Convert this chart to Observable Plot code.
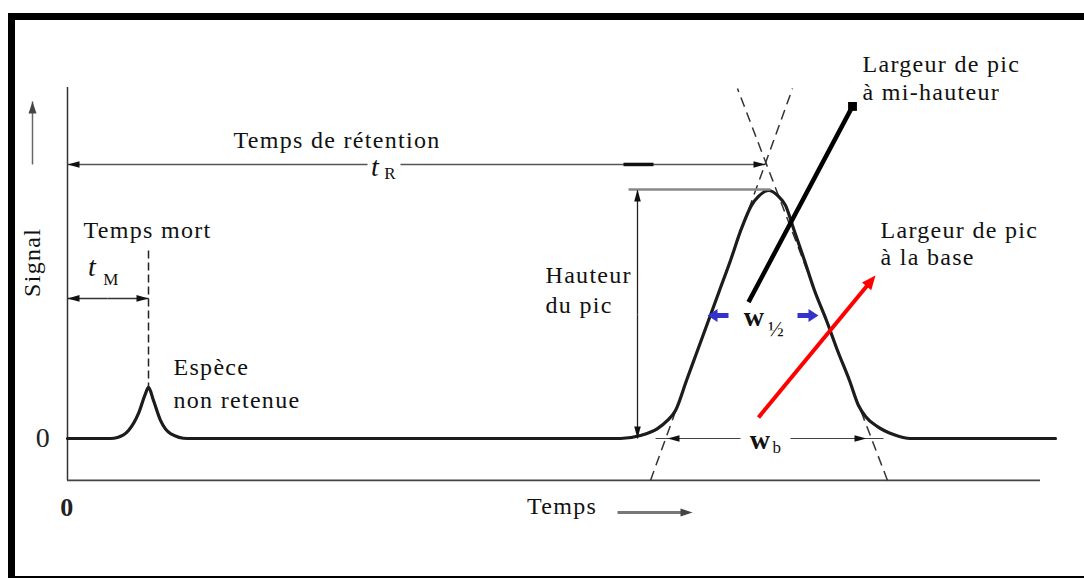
<!DOCTYPE html>
<html><head><meta charset="utf-8">
<script src="https://cdn.jsdelivr.net/npm/d3@7"></script>
<script src="https://cdn.jsdelivr.net/npm/@observablehq/plot@0.6"></script>
<style>
html,body{margin:0;padding:0;background:#fff;}
#wrap{position:relative;width:1084px;height:579px;overflow:hidden;background:#fff;}
#chart{position:absolute;left:0;top:0;}
#frame{position:absolute;left:8px;top:13px;width:1100px;height:556px;border-left:7px solid #000;border-top:7px solid #000;border-bottom:2px solid #000;pointer-events:none;}
#chart svg text{letter-spacing:1.3px;}
</style></head><body>
<div id="wrap"><div id="chart"></div><div id="frame"></div></div>
<script>
// ---- scales (time units, signal units: main peak height = 100)
const xDomain = [0, 98.8], xRange = [67, 1055];
const yDomain = [0, 100], yRange = [438, 190];

// ---- chromatogram trace
const traceTime = [0, 4.3, 5.0, 6.1, 7.1, 7.8, 8.1, 8.6, 9.3, 10.3, 12.0,
  55.3, 57.3, 59.0, 60.0, 60.8, 61.9, 63.0, 64.1, 65.2, 66.3, 67.4, 68.4, 69.1, 70.1,
  71.1, 71.8, 72.6, 73.7, 74.7, 75.9, 77.0, 78.2, 79.1, 79.8, 81.0, 82.6, 84.3, 98.8];
const traceSignal = [0, 0, 0.4, 3.2, 10.1, 18.1, 20.6, 15.3, 7.3, 2.0, 0,
  0, 1.2, 4.0, 7.3, 11.3, 23.4, 35.5, 47.6, 59.7, 71.8, 84.7, 94.0, 97.6, 100,
  97.6, 94.0, 84.7, 71.8, 59.7, 47.6, 35.5, 23.4, 13.3, 8.9, 4.8, 1.6, 0, 0];

// ---- axes frame and ticks
const axisTime = [0, 97.3];
const axisSignal = [-16.9, 141.5];
const timeTicks = [0];
const signalTicks = [0];

// ---- annotation segments [t1, s1, t2, s2]
const retentionSegments = [[30.0, 110.5, 0, 110.5], [33.3, 110.5, 69.8, 110.5]];
const retentionMarker = [[55.6, 110.5, 58.6, 110.5]];
const deadTimeSegments = [[4.0, 56.5, 0, 56.5], [4.0, 56.5, 8.1, 56.5]];
const deadTimeDash = [[8.1, 75.8, 8.1, 20.6]];
const heightSegments = [[57.0, 50, 57.0, 100.4], [57.0, 50, 57.0, 0]];
const heightTop = [[56.1, 100.4, 70.3, 100.4]];
const tangents = [[58.3, -16.9, 72.5, 141.1], [82.0, -16.9, 67.0, 141.1]];
const baseWidthSegments = [[67.3, 0, 58.8, 0], [72.3, 0, 81.6, 0]];
const baseWidthTips = [[67.3, 0, 60.0, 0], [72.3, 0, 79.9, 0]];
const halfWidthArrows = [[66.1, 49.6, 64.0, 49.6], [73.0, 49.6, 75.1, 49.6]];
const pointerHalf = [[68.1, 55.0, 78.5, 133.9]];
const pointerBase = [[69.1, 8.5, 80.8, 65.7]];
const signalArrow = [[-3.5, 110.5, -3.5, 135.9]];
const timeArrow = [[55.0, -29.8, 62.5, -29.8]];

// ---- labels
const centeredText = ["Temps de rétention", "Temps mort", "Temps"];
const centeredTime = [26.95, 8.0, 49.45];
const centeredSignal = [120.4, 83.8, -27.5];
const leftText = ["Espèce", "non retenue", "Hauteur", "du pic", "Largeur de pic", "à mi-hauteur", "Largeur de pic", "à la base"];
const leftTime = [10.6, 10.6, 47.8, 47.8, 79.5, 79.5, 81.3, 81.3];
const leftSignal = [28.9, 15.3, 65.6, 53.9, 150.7, 139.4, 83.8, 72.9];
const italicText = ["t", "t"];
const italicTime = [30.8, 2.5];
const italicSignal = [109.3, 69.0];
const wText = ["w", "w"];
const wTime = [68.7, 69.3];
const wSignal = [48.8, -0.8];
const subText = ["R", "M", "b"];
const subTime = [32.3, 4.4, 71.0];
const subSignal = [106.9, 64.1, -3.6];
const fractionText = ["½"];
const fractionTime = [70.9];
const fractionSignal = [44.2];
const axisTitle = ["Signal"];
const axisTitleTime = [-3.5];
const axisTitleSignal = [71];

// ---- helpers
const kx = (xRange[1] - xRange[0]) / (xDomain[1] - xDomain[0]);
const ky = (yRange[0] - yRange[1]) / (yDomain[1] - yDomain[0]);
const rows = arr => arr.map(([t1, s1, t2, s2]) => ({t1, s1, t2, s2}));
const headAt = ([t1, s1, t2, s2]) => ({t: t2, s: s2, rotate: Math.atan2((t2 - t1) * kx, (s2 - s1) * ky) * 180 / Math.PI});
const shorten = ([t1, s1, t2, s2], px) => {
  const L = Math.hypot((t2 - t1) * kx, (s2 - s1) * ky), f = (L - px) / L;
  return [t1, s1, t1 + (t2 - t1) * f, s1 + (s2 - s1) * f];
};
const pts = (T, S) => T.map((t, i) => ({t, s: S[i]}));
const labelRows = (txt, T, S) => txt.map((text, i) => ({text, t: T[i], s: S[i]}));
const serif = "Liberation Serif, Times New Roman, serif";

const blackHeads = [...retentionSegments, ...deadTimeSegments, ...heightSegments, ...baseWidthTips].map(headAt);
const grayHeads = [...signalArrow, ...timeArrow].map(headAt);
const blueHeads = halfWidthArrows.map(headAt);
const redHeads = pointerBase.map(headAt);
const link = (arr, o) => Plot.link(rows(arr), {x1: "t1", y1: "s1", x2: "t2", y2: "s2", ...o});

const chart = Plot.plot({
  width: 1084, height: 579,
  margin: 0,
  x: {domain: xDomain, range: xRange, axis: null},
  y: {domain: yDomain, range: yRange, axis: null},
  style: {background: "transparent", overflow: "visible"},
  marks: [
    // axes
    Plot.ruleX([axisTime[0]], {y1: axisSignal[0], y2: axisSignal[1], stroke: "#333", strokeWidth: 1.5}),
    Plot.ruleY([axisSignal[0]], {x1: axisTime[0], x2: axisTime[1], stroke: "#444", strokeWidth: 1.8}),
    Plot.text(signalTicks, {x: xDomain[0], y: d => d, text: d => String(d), dx: -24, fontSize: 28, fontFamily: serif, fill: "#222"}),
    Plot.text(timeTicks, {x: d => d, y: axisSignal[0], text: d => String(d), dy: 27, fontSize: 26, fontWeight: "bold", fontFamily: serif, fill: "#222"}),
    Plot.text(labelRows(axisTitle, axisTitleTime, axisTitleSignal), {x: "t", y: "s", text: "text", rotate: -90, fontSize: 24, fontFamily: serif, fill: "#111"}),
    // tangents
    link(tangents, {stroke: "#333", strokeWidth: 1.5, strokeDasharray: "10,6"}),
    // trace
    Plot.line(pts(traceTime, traceSignal), {x: "t", y: "s", curve: "monotone-x", stroke: "#1c1c1c", strokeWidth: 3.2}),
    // dimension lines
    link(retentionSegments, {stroke: "#555", strokeWidth: 1.6}),
    link(retentionMarker, {stroke: "#111", strokeWidth: 3.5}),
    link(deadTimeSegments, {stroke: "#333", strokeWidth: 1.5}),
    link(deadTimeDash, {stroke: "#222", strokeWidth: 1.5, strokeDasharray: "8,4"}),
    link(heightSegments, {stroke: "#222", strokeWidth: 1.3}),
    link(heightTop, {stroke: "#888", strokeWidth: 2.5}),
    link(baseWidthSegments, {stroke: "#444", strokeWidth: 1.2}),
    link(signalArrow, {stroke: "#666", strokeWidth: 1.5}),
    link(timeArrow.map(d => shorten(d, 8)), {stroke: "#777", strokeWidth: 3}),
    Plot.vector(blackHeads, {x: "t", y: "s", rotate: "rotate", length: 12, r: 3.3, shape: "spike", anchor: "end", fill: "#111", stroke: "none"}),
    Plot.vector(grayHeads, {x: "t", y: "s", rotate: "rotate", length: 12, r: 4, shape: "spike", anchor: "end", fill: "#444", stroke: "none"}),
    // half-width arrows (blue)
    link(halfWidthArrows.map(d => shorten(d, 8)), {stroke: "#3333cc", strokeWidth: 5}),
    Plot.vector(blueHeads, {x: "t", y: "s", rotate: "rotate", length: 10, r: 6.5, shape: "spike", anchor: "end", fill: "#3333cc", stroke: "none"}),
    // pointers
    link(pointerHalf, {stroke: "#000", strokeWidth: 4.5}),
    Plot.dot(pointerHalf.map(([, , t, s]) => ({t, s})), {x: "t", y: "s", symbol: "square", r: 5, fill: "#000"}),
    link(pointerBase.map(d => shorten(d, 10)), {stroke: "#ff0000", strokeWidth: 4}),
    Plot.vector(redHeads, {x: "t", y: "s", rotate: "rotate", length: 14, r: 6, shape: "spike", anchor: "end", fill: "#ff0000", stroke: "none"}),
    // labels
    Plot.text(labelRows(centeredText, centeredTime, centeredSignal), {x: "t", y: "s", text: "text", fontSize: 24, fontFamily: serif, fill: "#111", textAnchor: "middle"}),
    Plot.text(labelRows(leftText, leftTime, leftSignal), {x: "t", y: "s", text: "text", fontSize: 24, fontFamily: serif, fill: "#111", textAnchor: "start"}),
    Plot.text(labelRows(italicText, italicTime, italicSignal), {x: "t", y: "s", text: "text", fontSize: 28, fontStyle: "italic", fontFamily: serif, fill: "#111"}),
    Plot.text(labelRows(wText, wTime, wSignal), {x: "t", y: "s", text: "text", fontSize: 28, fontWeight: "bold", fontFamily: serif, fill: "#111"}),
    Plot.text(labelRows(subText, subTime, subSignal), {x: "t", y: "s", text: "text", fontSize: 17, fontFamily: serif, fill: "#111"}),
    Plot.text(labelRows(fractionText, fractionTime, fractionSignal), {x: "t", y: "s", text: "text", fontSize: 21, fontFamily: serif, fill: "#111"})
  ]
});
document.getElementById("chart").appendChild(chart);
</script>
</body></html>
